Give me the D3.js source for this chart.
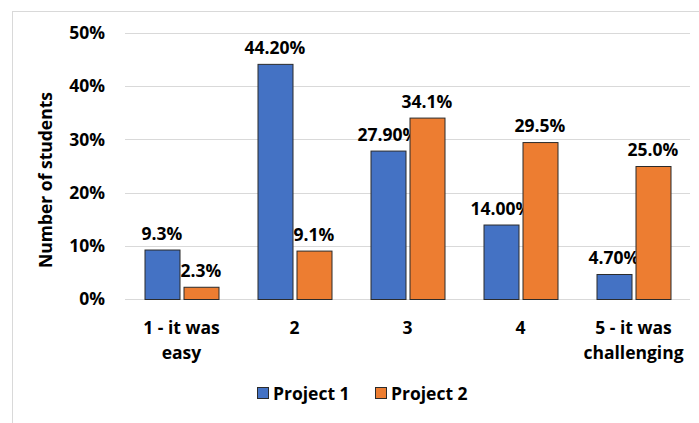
<!DOCTYPE html>
<html><head><meta charset="utf-8">
<script src="https://cdn.jsdelivr.net/npm/d3@7"></script>
<style>body{margin:0;background:#fff}svg{display:block}text{font-family:"Open Sans",sans-serif;font-weight:bold;fill:#000}</style>
</head><body><svg id="c" width="699" height="423"></svg>
<script>
const categories = [["1 - it was","easy"],["2"],["3"],["4"],["5 - it was","challenging"]];
const seriesNames = ["Project 1","Project 2"];
const project1 = [9.3, 44.2, 27.9, 14.0, 4.7];
const project2 = [2.3, 9.1, 34.1, 29.5, 25.0];
const project1Labels = ["9.3%","44.20%","27.90%","14.00%","4.70%"];
const project2Labels = ["2.3%","9.1%","34.1%","29.5%","25.0%"];
const yTicks = [0,10,20,30,40,50];
const colors = ["#4472C4","#ED7D31"];
const FS = "17.5px";

const svg = d3.select("#c");
svg.append("rect").attr("x",12.5).attr("y",11.5).attr("width",720).attr("height",440)
  .attr("fill","none").attr("stroke","#d9d9d9");

const m = {l:125, r:690, t:33, b:299};
const x = d3.scaleBand().domain(d3.range(categories.length)).range([m.l,m.r]);
const y = d3.scaleLinear().domain([0,50]).range([m.b,m.t]);

svg.append("g").selectAll("line").data(yTicks).join("line")
  .attr("x1",m.l).attr("x2",m.r).attr("y1",d=>Math.round(y(d))+0.5).attr("y2",d=>Math.round(y(d))+0.5)
  .attr("stroke","#d9d9d9").attr("stroke-width",1);

const yAxis = d3.axisLeft(y).tickValues(yTicks).tickFormat(d=>d+"%").tickSize(0).tickPadding(20);
const ga = svg.append("g").attr("transform",`translate(${m.l},0)`).call(yAxis);
ga.select(".domain").remove();
ga.selectAll("text").style("font-size",FS).style("font-family","'Open Sans',sans-serif").style("font-weight","bold").attr("fill","#000");

svg.append("text").attr("transform","translate(52,180) rotate(-90)").attr("text-anchor","middle")
  .style("font-size",FS).text("Number of students");

const bw = 35, gap = 4;
const series = [project1, project2];
const labels = [project1Labels, project2Labels];
series.forEach((vals,si)=>{
  const g = svg.append("g");
  g.selectAll("rect").data(vals).join("rect")
    .attr("x",(d,i)=>x(i)+x.bandwidth()/2 - bw - gap/2 + si*(bw+gap) + 0.5)
    .attr("y",d=>y(d)+0.5).attr("width",bw).attr("height",d=>y(0)-y(d))
    .attr("fill",colors[si]).attr("stroke","#2b2b2b").attr("stroke-width",1);
  g.selectAll("text").data(vals).join("text")
    .attr("x",(d,i)=>x(i)+x.bandwidth()/2 - bw/2 - gap/2 + si*(bw+gap))
    .attr("y",d=>y(d)-10).attr("text-anchor","middle").style("font-size",FS)
    .text((d,i)=>labels[si][i]);
});

categories.forEach((lines,i)=>{
  const t = svg.append("text").attr("text-anchor","middle").style("font-size",FS);
  lines.forEach((ln,j)=>t.append("tspan").attr("x",x(i)+x.bandwidth()/2).attr("y",334+j*25).text(ln));
});

const lx = [257, 375];
seriesNames.forEach((n,i)=>{
  svg.append("rect").attr("x",lx[i]+0.5).attr("y",387.5).attr("width",11).attr("height",11)
    .attr("fill",colors[i]).attr("stroke","#2b2b2b");
  svg.append("text").attr("x",lx[i]+16).attr("y",400).style("font-size",FS).text(n);
});
</script></body></html>
